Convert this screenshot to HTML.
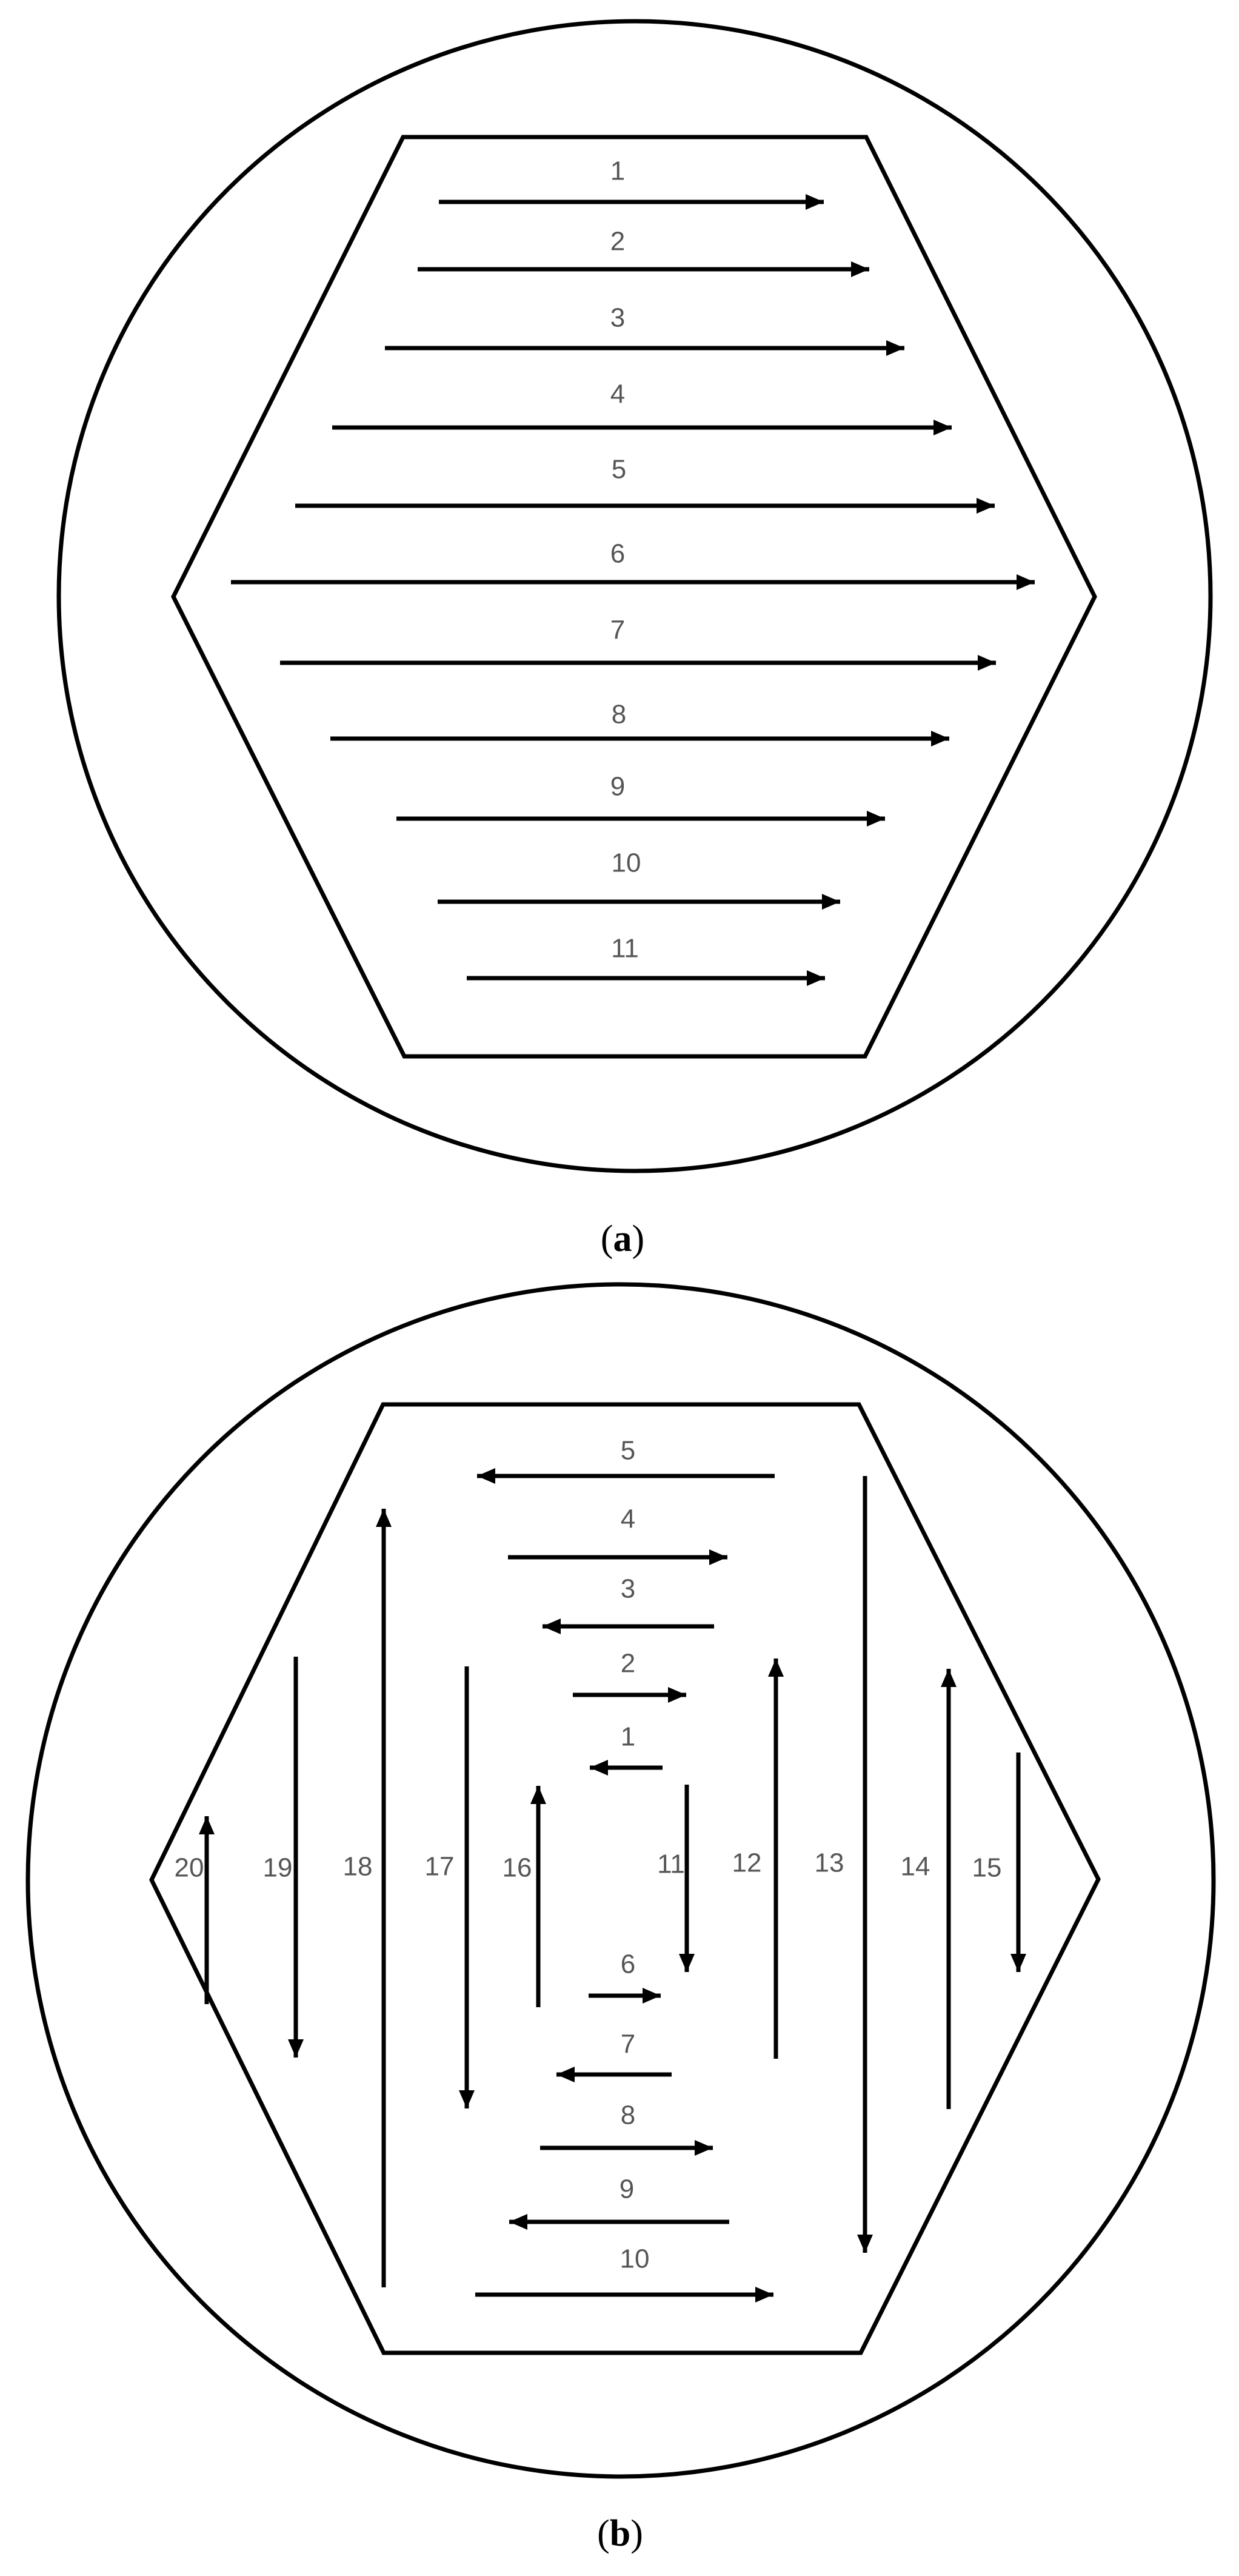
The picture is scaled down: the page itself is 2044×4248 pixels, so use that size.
<!DOCTYPE html>
<html><head><meta charset="utf-8"><style>html,body{margin:0;padding:0;background:#fff}svg{display:block}</style></head>
<body>
<svg width="2044" height="4248" viewBox="0 0 2044 4248" xmlns="http://www.w3.org/2000/svg">
<defs>
<marker id="a" markerUnits="userSpaceOnUse" markerWidth="30" markerHeight="26" refX="30" refY="13" orient="auto">
<path d="M0,0 L30,13 L0,26 z" fill="#000"/>
</marker>
</defs>
<rect width="2044" height="4248" fill="#fff"/>
<g fill="none" stroke="#000" stroke-width="7">
<ellipse cx="1047" cy="983" rx="950" ry="948"/>
<polygon points="665,226 1429,226 1806,984 1427,1742 667,1742 286,984" stroke-linejoin="miter"/>
<ellipse cx="1024" cy="3101" rx="978" ry="983"/>
<polygon points="632,2316 1417,2316 1812,3099 1420,3880 633,3880 250,3100"/>
</g>
<g stroke="#000" stroke-width="7" marker-end="url(#a)">
<line x1="724" y1="333" x2="1359" y2="333"/>
<line x1="689" y1="444" x2="1434" y2="444"/>
<line x1="635" y1="574" x2="1492" y2="574"/>
<line x1="548" y1="705" x2="1570" y2="705"/>
<line x1="487" y1="834" x2="1641" y2="834"/>
<line x1="381" y1="960" x2="1707" y2="960"/>
<line x1="462" y1="1093" x2="1643" y2="1093"/>
<line x1="545" y1="1218" x2="1566" y2="1218"/>
<line x1="654" y1="1350" x2="1460" y2="1350"/>
<line x1="722" y1="1487" x2="1386" y2="1487"/>
<line x1="770" y1="1613" x2="1361" y2="1613"/>

<line x1="1278" y1="2434" x2="787" y2="2434"/>
<line x1="838" y1="2568" x2="1200" y2="2568"/>
<line x1="1178" y1="2682" x2="895" y2="2682"/>
<line x1="945" y1="2795" x2="1132" y2="2795"/>
<line x1="1093" y1="2915" x2="973" y2="2915"/>
<line x1="971" y1="3291" x2="1090" y2="3291"/>
<line x1="1108" y1="3421" x2="918" y2="3421"/>
<line x1="891" y1="3542" x2="1176" y2="3542"/>
<line x1="1203" y1="3664" x2="840" y2="3664"/>
<line x1="784" y1="3784" x2="1276" y2="3784"/>

<line x1="1133" y1="2943" x2="1133" y2="3252"/>
<line x1="1280" y1="3395" x2="1280" y2="2735"/>
<line x1="1427" y1="2434" x2="1427" y2="3715"/>
<line x1="1565" y1="3478" x2="1565" y2="2752"/>
<line x1="1680" y1="2890" x2="1680" y2="3252"/>
<line x1="888" y1="3310" x2="888" y2="2945"/>
<line x1="770" y1="2748" x2="770" y2="3477"/>
<line x1="633" y1="3772" x2="633" y2="2488"/>
<line x1="488" y1="2732" x2="488" y2="3393"/>
<line x1="341" y1="3305" x2="341" y2="2995"/>
</g>
<g font-family="Liberation Sans, sans-serif" font-size="44" fill="#555" text-anchor="middle" dominant-baseline="central">
<text x="1019" y="282">1</text>
<text x="1019" y="398">2</text>
<text x="1019" y="524">3</text>
<text x="1019" y="650">4</text>
<text x="1021" y="774">5</text>
<text x="1019" y="913">6</text>
<text x="1019" y="1039">7</text>
<text x="1021" y="1178">8</text>
<text x="1019" y="1297">9</text>
<text x="1033" y="1423">10</text>
<text x="1031" y="1564">11</text>

<text x="1036" y="2392">5</text>
<text x="1036" y="2505">4</text>
<text x="1036" y="2620">3</text>
<text x="1036" y="2743">2</text>
<text x="1036" y="2864">1</text>
<text x="1036" y="3239">6</text>
<text x="1036" y="3371">7</text>
<text x="1036" y="3488">8</text>
<text x="1034" y="3610">9</text>
<text x="1047" y="3725">10</text>

<text x="312" y="3080">20</text>
<text x="458" y="3080">19</text>
<text x="590" y="3078">18</text>
<text x="725" y="3078">17</text>
<text x="853" y="3080">16</text>
<text x="1107" y="3074">11</text>
<text x="1232" y="3072">12</text>
<text x="1368" y="3072">13</text>
<text x="1510" y="3078">14</text>
<text x="1628" y="3080">15</text>
</g>
<g font-family="Liberation Serif, serif" font-size="62" fill="#000" text-anchor="middle">
<text x="1027" y="2063">(<tspan font-weight="bold">a</tspan>)</text>
<text x="1023" y="4198">(<tspan font-weight="bold">b</tspan>)</text>
</g>
</svg>
</body></html>
